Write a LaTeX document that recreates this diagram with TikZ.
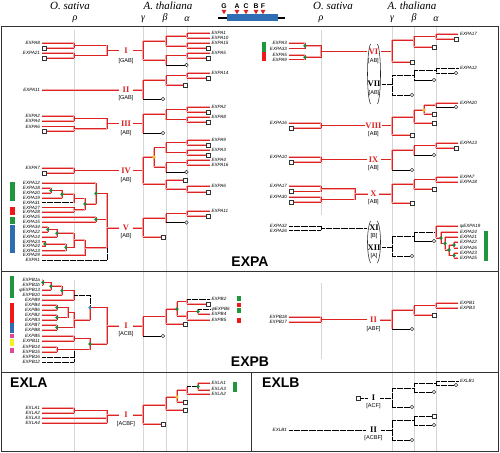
\documentclass[tikz,border=0pt]{standalone}
\usepackage{fontspec}
\setmainfont{Liberation Serif}
\newfontfamily\labf{Liberation Sans}
\definecolor{rd}{HTML}{DE2323}
\definecolor{pk}{HTML}{F4A8A8}
\definecolor{gdc}{HTML}{1E8C3C}
\definecolor{ydc}{HTML}{F2C230}
\definecolor{bdc}{HTML}{3A86A8}
\definecolor{blu}{HTML}{2F6DB5}
\definecolor{mgc}{HTML}{E0489A}
\definecolor{ylc}{HTML}{F5F020}
\definecolor{gbar}{HTML}{21963F}
\definecolor{rbar}{HTML}{F01818}
\definecolor{bbar}{HTML}{2E6DB0}
\definecolor{grl}{HTML}{D6D6D6}
\newcommand\hs[4][rl]{\draw[#1] (#2,#4) -- (#3,#4);}
\newcommand\vs[4][rl]{\draw[#1] (#2,#3) -- (#2,#4);}
\newcommand\sqm[2]{\draw[sqs] ({#1-1.8},{#2-1.8}) rectangle ({#1+1.8},{#2+1.8});}
\newcommand\cim[2]{\draw[sqs] (#1,#2) circle (1.7pt);}
\newcommand\dotm[3]{\fill[#1] (#2,#3) circle (1.8pt);}
\newcommand\labE[4]{\node[lfe] (#1) at (#2,#3) {#4};}
\newcommand\labW[4]{\node[lfw] (#1) at (#2,#3) {#4};}
\newcommand\barm[5]{\fill[#1] (#2,#3) rectangle (#4,#5);}
\begin{document}
\begin{tikzpicture}[x=1pt,y=-1pt,
  rl/.style={draw=rd,line width=0.85pt,line cap=rect,preaction={draw=pk,line width=1.7pt}},
  bk/.style={draw=black,line width=0.6pt},
  dt/.style={draw=black,line width=0.9pt,dash pattern=on 0.55pt off 0.6pt},
  gl/.style={draw=grl,line width=0.9pt},
  fr/.style={draw=black!80,line width=0.6pt},
  lfe/.style={anchor=east,inner sep=0.3pt,font=\labf\itshape\fontsize{4.6}{5}\selectfont},
  lfw/.style={anchor=west,inner sep=0.3pt,font=\labf\itshape\fontsize{4.6}{5}\selectfont},
  gn/.style={text=rd,font=\bfseries\fontsize{8.5}{9}\selectfont,inner sep=0.3pt},
  gk/.style={text=black,font=\bfseries\fontsize{8.5}{9}\selectfont,inner sep=0.3pt},
  gc/.style={font=\labf\fontsize{5.6}{6}\selectfont,inner sep=0.3pt},
  sqs/.style={draw=black!80,fill=white,line width=0.45pt},
  hd/.style={font=\itshape\fontsize{11}{11}\selectfont,inner sep=0pt},
  gr/.style={font=\itshape\fontsize{10}{10}\selectfont,inner sep=0pt},
  big/.style={font=\labf\bfseries\fontsize{14}{14}\selectfont,inner sep=0pt},
  par/.style={draw=black!85,line width=0.55pt}]
\useasboundingbox (0,0) rectangle (500,452);
% guide lines
\draw[gl] (74,30) -- (74,232);
\draw[gl] (74,280) -- (74,451);
\foreach \gx in {143,166,187,392,414,436} {\draw[gl] (\gx,26) -- (\gx,451);}
\draw[gl] (321,30) -- (321,215);
\draw[gl] (321,283) -- (321,359);
% frame
\draw[fr] (1,26) rectangle (498,451);
\draw[fr] (1,271) -- (498,271);
\draw[fr] (1,372) -- (498,372);
\draw[fr] (251,372) -- (251,451);
% headers
\node[hd] (osL) at (70,6) {O. sativa};
\node[hd] (atL) at (168,6) {A. thaliana};
\node[hd] (osR) at (333,6) {O. sativa};
\node[hd] (atR) at (412,6) {A. thaliana};
\node[gr] (rhoL) at (75,19) {ρ};
\node[gr] (gaL) at (143,19) {γ};
\node[gr] (beL) at (165,18) {β};
\node[gr] (alL) at (187,19) {α};
\node[gr] (rhoR) at (321,19) {ρ};
\node[gr] (gaR) at (392,19) {γ};
\node[gr] (beR) at (414,18) {β};
\node[gr] (alR) at (436,19) {α};
% gene structure
\draw[line width=1.6pt] (218,18) -- (285,18);
\fill[blu] (227,14.5) rectangle (278,21.5);
\foreach \tx/\tl in {224/G,237/A,246/C,256/B,263/F} {
  \fill[rd] ({\tx-2.4},10) -- ({\tx+2.4},10) -- (\tx,14.2) -- cycle;
  \node[font=\labf\bfseries\fontsize{6.8}{7}\selectfont,inner sep=0pt] (g\tl) at (\tx,5.8) {\tl};}
% ================= left EXPA =================
% group I
\labE{a1}{40.5}{43}{EXPA8}\labE{a2}{40.5}{53}{EXPA21}
\hs{42}{74}{43}\hs{46}{74}{48}\vs{74}{43}{48}\sqm{44}{48}
\hs{42}{74}{53}\hs{46}{74}{58}\vs{74}{53}{58}\sqm{44}{58}
\hs{74}{107}{45.5}\hs{74}{107}{55.5}\vs{107}{45.5}{55.5}
\hs{107}{119}{50.5}\node[gn] (gI) at (126,50.5) {I};\node[gc] (cI) at (126,61) {[GAB]};\hs{133}{143}{50.5}
\vs{143}{41}{60}
\hs{143}{166}{41}\vs{166}{36}{46}
\hs{166}{187}{36}\vs{187}{33}{38}\hs{187}{210}{33}\hs{187}{210}{38}
\labW{b1}{211}{33}{EXPA1}\labW{b2}{211}{38}{EXPA10}
\hs{166}{187}{46}\vs{187}{43}{48}\hs{187}{210}{43}\hs{187}{206}{48}\sqm{208}{48}
\labW{b3}{211}{43}{EXPA15}
\hs{143}{166}{60}\vs{166}{55.5}{65}
\hs{166}{187}{55.5}\vs{187}{53}{58}\hs{187}{210}{53}\hs{187}{206}{58}\sqm{208}{58}
\labW{b4}{211}{53}{EXPA5}
\hs[bk]{166}{185}{65}\cim{186.5}{65}
% group II
\labE{a3}{40.5}{90}{EXPA11}
\hs{42}{119}{90}\node[gn] (gII) at (126,90) {II};\node[gc] (cII) at (126,98.5) {[GAB]};\hs{133}{143}{90}
\vs{143}{80}{99}
\hs[bk]{143}{161}{99}\cim{163}{99}
\hs{143}{166}{80}\vs{166}{75.5}{85}
\hs{166}{187}{75.5}\vs{187}{73}{78}\hs{187}{210}{73}\hs{187}{206}{78}\sqm{208}{78}
\labW{b5}{211}{73}{EXPA14}
\hs{166}{183}{85}\sqm{185}{85}
% group III
\labE{a4}{40.5}{116}{EXPA2}\labE{a5}{40.5}{121}{EXPA4}\labE{a6}{40.5}{126.5}{EXPA6}
\hs{42}{74}{116}\hs{42}{74}{121}\vs{74}{116}{121}
\hs{42}{74}{126.5}\hs{46}{74}{131}\vs{74}{126.5}{131}\sqm{44}{131}
\hs{74}{107}{118.5}\hs{74}{107}{128.75}\vs{107}{118.5}{128.75}
\hs{107}{119}{123.6}\node[gn] (gIII) at (126,123.6) {III};\node[gc] (cIII) at (126,133) {[AB]};\hs{133}{143}{123.6}
\vs{143}{114}{133}
\hs[bk]{143}{161}{133}\cim{163}{133}
\hs{143}{166}{114}\vs{166}{109.5}{119.5}
\hs{166}{187}{109.5}\vs{187}{107}{112}\hs{187}{210}{107}\hs{187}{206}{112}\sqm{208}{112}
\hs{166}{187}{119.5}\vs{187}{117}{122}\hs{187}{210}{117}\hs{187}{206}{122}\sqm{208}{122}
\labW{b6}{211}{107}{EXPA2}\labW{b7}{211}{117}{EXPA8}
% group IV
\labE{a7}{40.5}{168}{EXPA7}
\hs{42}{74}{168}\hs{46}{74}{173}\vs{74}{168}{173}\sqm{44}{173}
\hs{74}{119}{170.5}\node[gn] (gIV) at (126,170.5) {IV};\node[gc] (cIV) at (126,180) {[AB]};\hs{133}{143}{170.5}
\vs{143}{157}{184}
\hs{143}{154}{157}\vs{154}{147.5}{167}
\hs{154}{166}{147.5}\vs{166}{142.5}{152.5}
\hs{166}{187}{142.5}\vs{187}{140}{145}\hs{187}{210}{140}\hs{187}{206}{145}\sqm{208}{145}
\hs{166}{187}{152.5}\vs{187}{150}{155}\hs{187}{210}{150}\hs{187}{206}{155}\sqm{208}{155}
\hs{154}{166}{167}\vs{166}{162.5}{172}
\hs{166}{187}{162.5}\vs{187}{160}{165}\hs{187}{210}{160}\hs{187}{210}{165}
\hs[bk]{166}{185}{172}\cim{186.5}{172}
\hs{143}{166}{184}\vs{166}{180}{189}
\hs{166}{183}{180}\sqm{185}{180}
\hs{166}{187}{189}\vs{187}{186}{192}\hs{187}{210}{186}\hs{187}{206}{192}\sqm{208}{192}
\dotm{ydc}{154}{157}
\labW{b8}{211}{140}{EXPA9}\labW{b9}{211}{150}{EXPA3}\labW{b10}{211}{160}{EXPA4}
\labW{b11}{211}{165}{EXPA16}\labW{b12}{211}{186}{EXPA6}
% group V
\labE{c1}{40.5}{183}{EXPA12}\labE{c2}{40.5}{188}{EXPA18}\labE{c3}{40.5}{193}{EXPA20}
\labE{c4}{40.5}{198}{EXPA19}\labE{c5}{40.5}{202.5}{EXPA31}\labE{c6}{40.5}{207.5}{EXPA27}
\labE{c7}{40.5}{212}{EXPA28}\labE{c8}{40.5}{217}{EXPA25}\labE{c9}{40.5}{222}{EXPA15}
\labE{c10}{40.5}{227}{EXPA34}\labE{c11}{40.5}{232}{EXPA22}\labE{c12}{40.5}{237}{EXPA14}
\labE{c13}{40.5}{241.8}{EXPA23}\labE{c14}{40.5}{246.3}{EXPA24}\labE{c15}{40.5}{250.8}{EXPA13}
\labE{c16}{40.5}{255.3}{EXPA29}\labE{c17}{40.5}{260}{EXPA1}
\hs{42}{51}{188}\hs{42}{51}{193}\vs{51}{188}{193}
\hs{51}{62}{190.5}\hs{42}{62}{198}\vs{62}{190.5}{198}
\hs{62}{74}{194.25}\hs[dt]{42}{74}{202.5}\vs{74}{194.25}{202.5}
\hs{42}{74}{207.5}\hs{42}{74}{212}\vs{74}{207.5}{212}
\hs{74}{85}{198.4}\hs{74}{85}{209.75}\vs{85}{198.4}{209.75}
\hs{42}{96}{183}\hs{85}{96}{204}\vs{96}{183}{204}
\hs{42}{96}{217}\hs{42}{96}{222}\vs{96}{217}{222}
\hs{96}{107}{193.5}\hs{96}{107}{219.5}
\hs{42}{48}{227}\hs{42}{48}{232}\vs{48}{227}{232}
\hs{48}{57}{229.5}\hs{42}{57}{237}\vs{57}{229.5}{237}
\hs{42}{45}{241.8}\hs{42}{45}{246.3}\vs{45}{241.8}{246.3}
\hs{45}{66}{244}\hs{42}{66}{250.8}\vs{66}{244}{250.8}
\hs{57}{74}{233.25}\hs{66}{74}{247.4}\vs{74}{233.25}{247.4}
\hs{74}{85}{240.3}\hs{42}{85}{255.3}\vs{85}{240.3}{255.3}
\hs{85}{107}{247.8}
\hs[dt]{42}{107}{260}
\vs{107}{193.5}{247.8}\vs[dt]{107}{247.8}{260}
\dotm{gdc}{51}{190.5}\dotm{gdc}{62}{194.25}\dotm{gdc}{85}{204}\dotm{gdc}{96}{193.5}
\dotm{gdc}{96}{219.5}\dotm{gdc}{48}{229.5}\dotm{gdc}{57}{233.25}\dotm{gdc}{45}{244}\dotm{gdc}{66}{247.4}
\hs{107}{119}{228}\node[gn] (gV) at (126,228) {V};\node[gc] (cV) at (126,236.5) {[AB]};\hs{133}{143}{228}
\vs{143}{218}{237}
\hs{143}{166}{218}\vs{166}{213.5}{222.5}
\hs{166}{187}{213.5}\vs{187}{211}{216}\hs{187}{210}{211}\hs{187}{206}{216}\sqm{208}{216}
\labW{b13}{211}{211}{EXPA11}
\hs[bk]{166}{185}{222.5}\cim{186.5}{222.5}
\hs{143}{161}{237}\sqm{163}{237}
\barm{gbar}{10}{182}{15}{201}\barm{rbar}{10}{207}{15}{215}
\barm{gbar}{10}{217}{15}{224}\barm{bbar}{10}{225}{15}{253}
% ================= right EXPA =================
% VI
\labE{d1}{287.5}{43}{EXPA3}\labE{d2}{287.5}{48.5}{EXPA33}\labE{d3}{287.5}{55}{EXPA5}\labE{d4}{287.5}{59.5}{EXPA9}
\hs{289}{305}{43}\hs{289}{305}{48.5}\vs{305}{43}{48.5}
\hs{289}{305}{55}\hs{289}{305}{59.5}\vs{305}{55}{59.5}
\hs{305}{321}{45.75}\hs{305}{321}{57.25}\vs{321}{45.75}{57.25}
\dotm{gdc}{305}{45.75}\dotm{gdc}{305}{57.25}
\hs{321}{367}{51.5}\node[gn] (gVI) at (373.5,51.5) {VI};\node[gc] (cVI) at (373.5,61) {[AB]};\hs{381}{392}{51.5}
\draw[par] (370.5,44) .. controls (366.5,52) and (366.5,96) .. (370.5,104);
\draw[par] (377.5,44) .. controls (381.5,52) and (381.5,96) .. (377.5,104);
\vs{392}{40}{62}
\hs{392}{414}{40}\vs{414}{36.5}{47}
\hs{414}{436}{36.5}\vs{436}{34}{39}\hs{436}{458}{34}\hs{436}{454}{39}\sqm{456}{39}
\labW{e1}{459.5}{34}{EXPA17}
\hs{414}{432}{47}\sqm{434}{47}
\hs{392}{410}{62}\sqm{412}{62}
\barm{gbar}{262}{42}{266}{52}\barm{rbar}{262}{52}{266}{61}
% VII
\node[gk] (gVII) at (374,84) {VII};\node[gc] (cVII) at (374,93.5) {[AB]};
\hs[dt]{382}{392}{84}\vs[dt]{392}{75.25}{95}
\hs[dt]{392}{414}{75.25}\vs[dt]{414}{70.5}{80}
\hs[dt]{414}{436}{70.5}\vs[dt]{436}{68}{73}\hs[dt]{436}{458}{68}\hs[dt]{436}{454}{73}\cim{456}{73}
\labW{e2}{459.5}{68}{EXPA12}
\hs[bk]{414}{432}{80}\cim{434}{80}
\hs[dt]{392}{410}{95}\cim{412}{95}
% VIII
\labE{d5}{287.5}{123}{EXPA16}
\hs{289}{321}{123}\hs{293}{321}{128}\vs{321}{123}{128}\sqm{291}{128}
\hs{321}{365}{125.5}\node[gn] (gVIII) at (373.5,125.5) {VIII};\node[gc] (cVIII) at (373.5,134) {[AB]};\hs{382}{392}{125.5}
\vs{392}{117}{135}
\hs{392}{414}{117}\vs{414}{110}{123}
\hs{414}{424}{110}\vs{424}{105}{114}
\hs{424}{436}{105}\vs{436}{103}{107}\hs{436}{458}{103}\hs[bk]{436}{454}{107}\cim{456}{107}
\labW{e3}{459.5}{103}{EXPA20}
\hs{424}{432}{114}\sqm{434}{114}
\hs{414}{432}{123}\sqm{434}{123}
\hs{392}{410}{135}\sqm{412}{135}
\dotm{ydc}{424}{110}
% IX
\labE{d6}{287.5}{157}{EXPA10}
\hs{289}{321}{157}\hs{293}{321}{162}\vs{321}{157}{162}\sqm{291}{162}
\hs{321}{367}{159.5}\node[gn] (gIX) at (373.5,159.5) {IX};\node[gc] (cIX) at (373.5,168) {[AB]};\hs{381}{392}{159.5}
\vs{392}{150}{170}
\hs{392}{414}{150}\vs{414}{145.5}{155}
\hs{414}{436}{145.5}\vs{436}{143}{148}\hs{436}{458}{143}\hs{436}{454}{148}\sqm{456}{148}
\labW{e4}{459.5}{143}{EXPA13}
\hs[bk]{414}{432}{155}\cim{434}{155}
\hs[bk]{392}{410}{170}\cim{412}{170}
% X
\labE{d7}{287.5}{186}{EXPA17}\labE{d8}{287.5}{197}{EXPA30}
\hs{289}{321}{186}\hs{293}{321}{191.5}\vs{321}{186}{191.5}\sqm{291}{191.5}
\hs{289}{321}{197}\hs{293}{321}{202}\vs{321}{197}{202}\sqm{291}{202}
\hs{321}{355}{188.75}\hs{321}{355}{199.5}\vs{355}{188.75}{199.5}
\hs{355}{368}{194}\node[gn] (gX) at (373.5,194) {X};\node[gc] (cX) at (373.5,202.5) {[AB]};\hs{379}{392}{194}
\vs{392}{184}{203}
\hs{392}{414}{184}\vs{414}{179.5}{189}
\hs{414}{436}{179.5}\vs{436}{177}{182}\hs{436}{458}{177}\hs{436}{458}{182}
\labW{e5}{459.5}{177}{EXPA7}\labW{e6}{459.5}{182}{EXPA18}
\hs{414}{432}{189}\sqm{434}{189}
\hs{392}{410}{203}\sqm{412}{203}
% XI / XII
\labE{d9}{287.5}{226}{EXPA32}\labE{d10}{287.5}{230.5}{EXPA26}
\hs[dt]{289}{321}{226}\hs[dt]{289}{321}{230.5}\vs[dt]{321}{226}{230.5}\hs[dt]{321}{367}{228.25}
\node[gk] (gXI) at (374,228) {XI};\node[gc] (cXI) at (374,236.5) {[B]};
\node[gk] (gXII) at (374,247.5) {XII};\node[gc] (cXII) at (374,256.5) {[A]};
\draw[par] (370.5,221) .. controls (366.5,229) and (366.5,255) .. (370.5,263);
\draw[par] (377.5,221) .. controls (381.5,229) and (381.5,255) .. (377.5,263);
\hs[dt]{382}{392}{247.5}\vs[dt]{392}{236.5}{256}
\hs[dt]{392}{414}{236.5}\vs[dt]{414}{232}{241}
\hs[dt]{414}{436}{232}\vs{436}{226}{238}
\hs{436}{458}{226}
\hs{436}{441}{238}\vs{441}{232}{243.5}\hs{441}{458}{232}
\hs{441}{445}{243.5}\vs{445}{237}{250}\hs{445}{458}{237}
\hs{445}{449}{250}\vs{449}{245}{255.5}
\hs{449}{454}{245}\vs{454}{242}{248}\hs{454}{458}{242}\hs{454}{458}{248}
\hs{449}{454}{255.5}\vs{454}{253}{258}\hs{454}{458}{253}\hs{454}{458}{258}
\dotm{gdc}{441}{238}\dotm{gdc}{445}{243.5}\dotm{gdc}{449}{250}\dotm{gdc}{454}{245}\dotm{gdc}{454}{255.5}
\hs[bk]{414}{432}{241}\cim{434}{241}
\hs[dt]{392}{410}{256}\cim{412}{256}
\labW{e7}{459.5}{226}{ψEXPA19}\labW{e8}{459.5}{232}{EXPA24}\labW{e9}{459.5}{237}{EXPA21}
\labW{e10}{459.5}{242}{EXPA22}\labW{e11}{459.5}{248}{EXPA26}\labW{e12}{459.5}{253}{EXPA23}
\labW{e13}{459.5}{258}{EXPA25}
\barm{gbar}{484}{231}{488}{261}
\node[big] (tA) at (250,262) {EXPA};
% ================= EXPB =================
\labE{f1}{40.5}{280}{EXPB1a}\labE{f2}{40.5}{285}{EXPB1b}\labE{f3}{40.5}{290}{ψEXPB13}
\labE{f4}{40.5}{295}{EXPB10}\labE{f5}{40.5}{300}{EXPB9}\labE{f6}{40.5}{305}{EXPB4}
\labE{f7}{40.5}{310}{EXPB6}\labE{f8}{40.5}{315}{EXPB2}\labE{f9}{40.5}{320}{EXPB3}
\labE{f10}{40.5}{325}{EXPB7}\labE{f11}{40.5}{330}{EXPB8}\labE{f12}{40.5}{336}{EXPB5}
\labE{f13}{40.5}{341}{EXPB11}\labE{f14}{40.5}{347}{EXPB14}\labE{f15}{40.5}{352}{EXPB15}
\labE{f16}{40.5}{357}{EXPB16}\labE{f17}{40.5}{362}{EXPB12}
\hs{42}{43}{280}\hs{42}{43}{285}\vs{43}{280}{285}
\hs{43}{51}{282.5}\hs{42}{51}{290}\vs{51}{282.5}{290}
\hs{51}{62}{286.25}\hs{42}{62}{295}\vs{62}{286.25}{295}
\hs{62}{74}{290.6}\hs{42}{74}{300}\vs{74}{290.6}{300}
\hs[dt]{74}{90}{295.3}\vs[dt]{90}{295.3}{307.6}
\hs{42}{57}{305}\hs{42}{57}{310}\vs{57}{305}{310}
\hs{42}{57}{315}\hs{42}{57}{320}\vs{57}{315}{320}
\hs{57}{68}{307.5}\hs{57}{68}{317.5}\vs{68}{307.5}{317.5}
\hs{42}{57}{325}\hs{42}{57}{330}\vs{57}{325}{330}
\hs{68}{74}{312.5}\hs{57}{74}{327.5}\vs{74}{312.5}{327.5}
\hs{74}{90}{320}\vs{90}{307.6}{320}
\hs{90}{107}{307.6}
\hs{42}{74}{336}\hs{42}{74}{341}\vs{74}{336}{341}
\hs{42}{57}{347}\hs{42}{57}{352}\vs{57}{347}{352}
\hs{74}{90}{338.5}\hs{57}{90}{349.5}\vs{90}{338.5}{349.5}
\hs{90}{107}{344}
\hs[dt]{42}{74}{357}\hs[dt]{42}{74}{362}\vs[dt]{74}{350.5}{362}
\vs{107}{307.6}{344}
\dotm{gdc}{43}{282.5}\dotm{gdc}{51}{286.25}\dotm{gdc}{62}{290.6}
\dotm{gdc}{57}{307.5}\dotm{gdc}{57}{317.5}\dotm{gdc}{57}{327.5}
\dotm{bdc}{90}{307.6}\dotm{gdc}{90}{344}
\hs{107}{119}{326}\node[gn] (gBI) at (126,326) {I};\node[gc] (cBI) at (126,334.5) {[ACB]};\hs{133}{143}{326}
\vs{143}{316.5}{336}
\hs[bk]{143}{161}{336}\cim{163}{336}
\hs{143}{166}{316.5}\vs{166}{309}{324}
\hs{166}{183}{324}\sqm{185}{324}
\hs{166}{177}{309}\vs{177}{301.5}{316}
\hs{177}{187}{301.5}\vs{187}{299}{304}\hs[dt]{187}{210}{299}\hs{187}{206}{304}\sqm{208}{304}
\hs{177}{187}{316}\vs{187}{311.5}{320}
\hs{187}{198}{311.5}\vs{198}{309}{314}\hs[dt]{198}{210}{309}\hs{198}{210}{314}
\hs{187}{210}{320}
\dotm{gdc}{177}{309}\dotm{gdc}{198}{311.5}
\labW{h1}{211}{299}{EXPB2}\labW{h2}{211}{309}{ψEXPB6}\labW{h3}{211}{314}{EXPB4}\labW{h4}{211}{320}{EXPB5}
\barm{gbar}{237}{296}{241}{301}\barm{rbar}{237}{302.5}{241}{307}
\barm{gbar}{237}{308}{241}{312.5}\barm{rbar}{237}{318}{241}{323}
\barm{gbar}{10}{276}{14}{298}\barm{rbar}{10}{303}{14}{323}\barm{bbar}{10}{323}{14}{333}
\barm{mgc}{10}{334}{14}{338}\barm{ylc}{10}{339}{14}{346}\barm{mgc}{10}{348}{14}{353}
% right EXPB II
\labE{k1}{287.5}{317}{EXPB18}\labE{k2}{287.5}{322}{EXPB17}
\hs{289}{321}{317}\hs{289}{321}{322}\vs{321}{317}{322}
\hs{321}{367}{319.5}\node[gn] (gBII) at (373.5,320) {II};\node[gc] (cBII) at (373.5,329) {[ABF]};\hs{380}{392}{320}
\vs{392}{310}{329}
\hs[bk]{392}{410}{329}\cim{412}{329}
\hs{392}{414}{310}\vs{414}{305.5}{315}
\hs{414}{436}{305.5}\vs{436}{303}{308}\hs{436}{458}{303}\hs{436}{458}{308}
\labW{m1}{459.5}{303}{EXPB1}\labW{m2}{459.5}{308}{EXPB3}
\hs{414}{432}{315}\sqm{434}{315}
\node[big] (tB) at (250,362) {EXPB};
% ================= EXLA =================
\node[big,anchor=west] (tLA) at (10,383) {EXLA};
\labE{n1}{40.5}{408}{EXLA1}\labE{n2}{40.5}{413}{EXLA2}\labE{n3}{40.5}{418}{EXLA3}\labE{n4}{40.5}{423}{EXLA4}
\hs{42}{74}{408}\hs{42}{74}{413}\vs{74}{408}{413}
\hs{74}{107}{410.5}\hs{42}{107}{418}\hs{42}{107}{423}\vs{107}{410.5}{423}
\hs{107}{119}{415}\node[gn] (gLI) at (126,415) {I};\node[gc] (cLI) at (126,424) {[ACBF]};\hs{133}{143}{415}
\vs{143}{405}{424}
\hs{143}{161}{424}\sqm{163}{424}
\hs{143}{166}{405}\vs{166}{397}{410}
\hs{166}{183}{410}\sqm{185}{410}
\hs{166}{177}{397}\vs{177}{390}{402}
\hs{177}{183}{402}\sqm{185}{402}
\hs{177}{187}{390}\vs{187}{386.5}{394}\hs{187}{210}{394}
\hs[dt]{187}{198}{386.5}\vs{198}{383}{390}\hs{198}{210}{383}\hs{198}{210}{390}
\dotm{ydc}{177}{397}\dotm{gdc}{198}{386.5}
\labW{p1}{211}{383}{EXLA1}\labW{p2}{211}{388.5}{EXLA3}\labW{p3}{211}{394}{EXLA2}
\barm{gbar}{233}{382}{237}{392}
% ================= EXLB =================
\node[big,anchor=west] (tLB) at (262,383) {EXLB};
\sqm{358}{398}\hs[dt]{360}{367}{398}
\node[gk] (gLBI) at (373.5,398) {I};\node[gc] (cLBI) at (373.5,406.5) {[ACF]};
\hs[dt]{380}{392}{398}\vs[dt]{392}{388}{407}
\hs[dt]{392}{414}{388}\vs[dt]{414}{383}{392}
\hs[dt]{414}{436}{383}\vs[dt]{436}{381}{385}\hs[dt]{436}{458}{381}\hs[dt]{436}{454}{385}\cim{456}{385}
\labW{q1}{459.5}{381}{EXLB1}
\hs[dt]{414}{432}{392}\cim{434}{392}
\hs[dt]{392}{410}{407}\cim{412}{407}
\labE{q2}{287.5}{430}{EXLB1}
\hs[dt]{289}{366}{430}
\node[gk] (gLBII) at (373.5,430) {II};\node[gc] (cLBII) at (373.5,438.5) {[ACBF]};
\hs[dt]{381}{392}{430}\vs[dt]{392}{420.5}{440}
\hs[dt]{392}{414}{420.5}\vs[dt]{414}{416}{425}
\hs[dt]{414}{432}{416}\sqm{434}{416}
\hs[dt]{414}{432}{425}\cim{434}{425}
\hs[dt]{392}{410}{440}\cim{412}{440}
\end{tikzpicture}
\end{document}
